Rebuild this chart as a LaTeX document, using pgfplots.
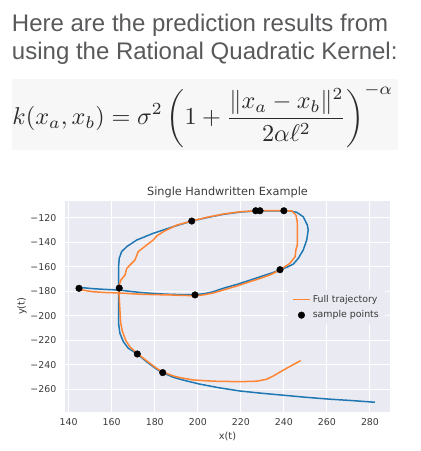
\documentclass[border=0pt]{standalone}
\usepackage{amsmath}
\usepackage{pgfplots}
\pgfplotsset{compat=1.18}
\usepackage{fontspec}
\usepackage{graphicx}
\newfontfamily\dejavu{DejaVu Sans}
\newfontfamily\arialf{Liberation Sans}
\definecolor{bgc}{HTML}{EAEAF2}
\definecolor{txtc}{HTML}{3A3A3A}
\definecolor{hdr}{HTML}{58595B}
\definecolor{fc}{HTML}{2A2A2A}
\definecolor{sblue}{HTML}{1F77B4}
\definecolor{sorange}{HTML}{FF8534}
\begin{document}
\begin{tikzpicture}
\useasboundingbox (0pt,0pt) rectangle (421pt,-451pt);
\fill[black!3] (12pt,-79pt) rectangle (398pt,-150pt);
\node[anchor=base west, inner sep=0pt, font=\arialf\fontsize{24}{27.6}\selectfont, text=hdr] at (11.8pt,-31.7pt) {Here are the prediction results from};
\node[anchor=base west, inner sep=0pt, font=\arialf\fontsize{24}{27.6}\selectfont, text=hdr] at (11.8pt,-59.3pt) {using the Rational Quadratic Kernel:};
\node[anchor=west, inner sep=0pt, text=fc] at (12.3pt,-116pt) {\resizebox{380.7pt}{!}{$\displaystyle k(x_a,x_b)=\sigma^2\left(1+\frac{\lVert x_a-x_b\rVert^2}{2\alpha\ell^2}\right)^{-\alpha}$}};
\begin{axis}[
  at={(65pt,-411.7pt)}, anchor=south west,
  scale only axis, width=325pt, height=211pt,
  xmin=138.3, xmax=289.3, ymin=-278.3, ymax=-106.1,
  axis background/.style={fill=bgc},
  axis line style={draw=none},
  grid=major, major grid style={white, line width=1pt},
  tick style={draw=none},
  xtick={140,160,...,280},
  xticklabels={140,160,180,200,220,240,260,280},
  ytick={-260,-240,...,-120},
  yticklabels={−260,−240,−220,−200,−180,−160,−140,−120},
  tick label style={font=\dejavu\fontsize{9.4}{11}\selectfont, text=txtc},
  xticklabel style={anchor=north, inner sep=0pt, yshift=-7pt},
  yticklabel style={anchor=east, inner sep=0pt, xshift=-8.5pt},
  title={Single Handwritten Example},
  title style={font=\dejavu\fontsize{11.3}{13}\selectfont, text=txtc, at={(axis description cs:0.5,1)}, anchor=base, yshift=-0.5pt, inner sep=0pt},
  xlabel={x(t)},
  xlabel style={font=\dejavu\fontsize{9.8}{12}\selectfont, text=txtc, at={(axis description cs:0.5,0)}, anchor=base, yshift=-27.8pt, inner sep=0pt},
  ylabel={y(t)},
  ylabel style={font=\dejavu\fontsize{9.8}{12}\selectfont, text=txtc, at={(axis description cs:0,0.5)}, anchor=center, yshift=43pt, inner sep=0pt},
  legend style={at={(axis description cs:0.9846,0.5768)}, anchor=north east, fill=bgc, draw=none, font=\dejavu\fontsize{9.4}{11}\selectfont, text=txtc, inner xsep=4pt, inner ysep=3pt, row sep=3pt},
  legend cell align=left,
]
\addplot[sblue, line width=1.5pt, forget plot] coordinates {
(144.8,-176.8) (151.4,-177.9) (157,-178.5) (163.5,-179) (169,-180.2) (174.7,-181.2)
(181,-182) (187.1,-182.5) (193,-182.8) (198.7,-182.8) (203,-182) (207,-180.5)
(211.8,-177.6) (218,-174.5) (224.2,-171) (230,-167.6) (234.5,-165) (238.2,-162.6)
(241.5,-160.3) (244.4,-157.8) (246.7,-153.1) (249,-146.3) (250.6,-138.2) (251.3,-130)
(250.9,-126) (249,-119.2) (246,-115.6) (242.5,-114.4) (240,-114.3) (233,-114.3)
(228,-114.4) (220,-115.3) (212,-117.2) (204,-120) (197.2,-122.7) (188.6,-127.3)
(179.3,-132.7) (171.6,-138.2) (166.9,-143.7) (164.6,-147.7) (163.5,-153.1) (163.2,-160)
(163.2,-170) (163.3,-178) (163.2,-190) (163.2,-206.1) (163.8,-214.3) (165.4,-221.1)
(167.7,-226.5) (171.9,-231.2) (176.2,-237.5) (180.9,-243.7) (183.7,-246.4) (188.6,-250.2)
(191.8,-251.8) (194.8,-253.2) (201,-255.8) (210,-258.8) (219.6,-261.4) (230,-263.3)
(238.2,-264.6) (250,-266.5) (259.9,-267.9) (272.3,-269.3) (282.3,-270.6)
};
\addplot[sorange, line width=1.5pt, forget plot] coordinates {
(144.8,-178.4) (148,-179.5) (151.4,-180.4) (157,-181) (163.5,-181.4) (169,-182)
(174.7,-182.5) (181,-182.8) (187.1,-183) (193,-183.4) (198.7,-183.6) (202.5,-183)
(207,-181.5) (211.8,-179) (218,-175.8) (224.2,-172.2) (229,-169.5) (233.5,-166.7)
(238.2,-162.6) (242.8,-157.2) (245.2,-151.8) (245.6,-146) (246.2,-142.4) (246.3,-132.7)
(246.2,-123.2) (245.6,-117.8) (243.6,-114.3) (240,-114.3) (233,-114.2) (227.4,-114.3)
(219.6,-115.1) (211.8,-117) (204.1,-119.7) (197.2,-122.7) (190.2,-126) (184,-131.4)
(180.9,-134.9) (179.3,-138.2) (176.2,-142.3) (172.3,-147.7) (170.8,-154.5) (168.5,-158.6)
(167,-161.3) (166.2,-166.7) (164.3,-170.8) (163.5,-174.9) (163.5,-179) (163.5,-185)
(163.8,-195) (164.2,-206) (165,-213) (166.5,-220) (168.5,-225.5) (171.9,-230.8)
(176.2,-236.7) (180.9,-243) (183.7,-245.8) (188.6,-249.1) (191.8,-250.5) (197.9,-252.4)
(207.2,-253.4) (219.6,-253.8) (227.4,-253.4) (232,-251.8) (235.1,-249.1) (241.3,-242.8)
(247.8,-236.6)
};
\addplot[only marks, mark=*, mark size=3.3pt, black, forget plot] coordinates {
(144.8,-177.6) (163.5,-177.4) (171.9,-231.2) (183.7,-246.4) (197.2,-122.7)
(198.7,-183) (226.9,-114.3) (228.9,-114.3) (240,-114.3) (238.2,-162.4)
};
\addlegendimage{draw=sorange, line width=1.5pt, sharp plot, mark=none}
\addlegendentry{Full trajectory}
\addlegendimage{only marks, mark=*, mark size=3.3pt, draw=black, fill=black, mark options={draw=black, fill=black}}
\addlegendentry{sample points}
\end{axis}
\end{tikzpicture}
\end{document}
